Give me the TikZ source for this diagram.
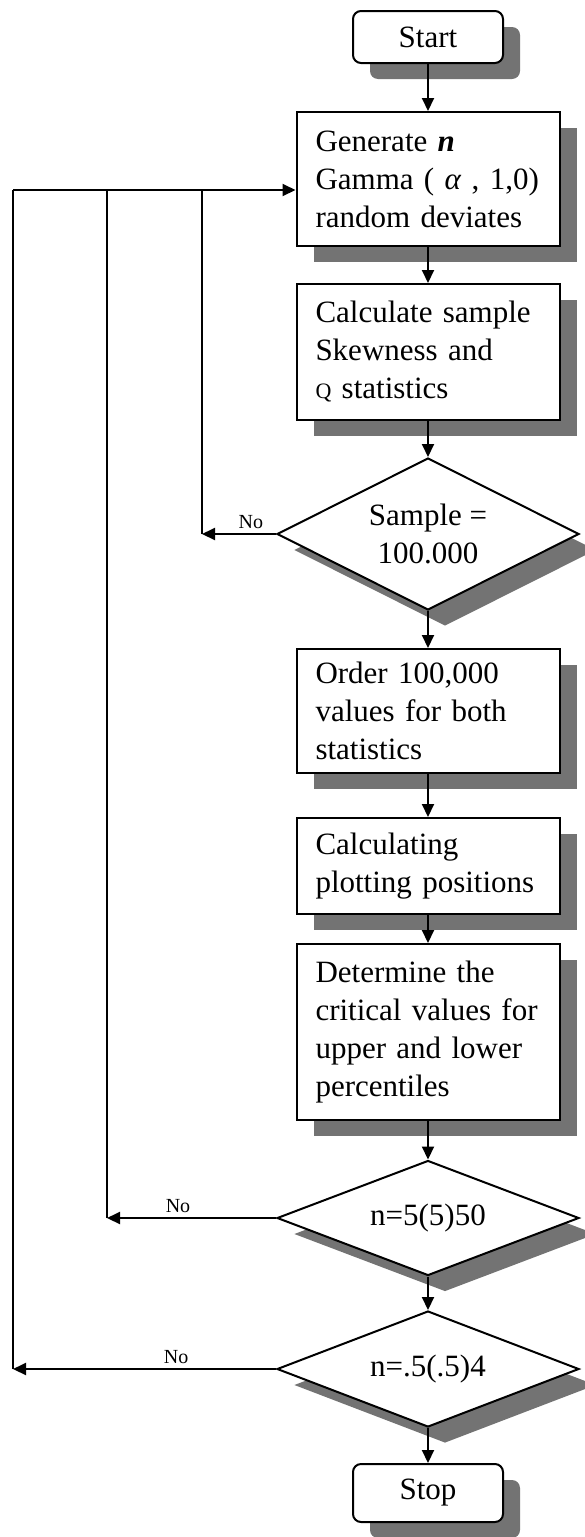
\documentclass[tikz,border=0pt]{standalone}
\usepackage{fontspec}
\setmainfont{Liberation Serif}
\usetikzlibrary{arrows.meta, positioning, shapes.geometric, shadows}

\begin{document}
\begin{tikzpicture}[x=0.5pt, y=-0.5pt,
    font=\fontsize{15.5}{19}\selectfont, line width=1pt,
    shadowed/.style={drop shadow={shadow xshift=8.5pt, shadow yshift=-8pt, fill=black!55, opacity=1}},
    box/.style={draw, fill=white, shadowed, rectangle, text width=112.5pt, inner xsep=9.5pt, inner ysep=0pt, align=left},
    terminal/.style={draw, fill=white, shadowed, rounded corners=4pt, minimum width=75pt},
    decision/.style={draw, fill=white, shadowed, diamond, inner sep=0pt, minimum width=151pt, align=center},
    arr/.style={-{Triangle[length=6.5pt, width=6pt]}},
    nolabel/.style={above, font=\fontsize{10}{12}\selectfont, inner sep=2pt}]

    \useasboundingbox (0,0) rectangle (584,1537);

    \node[terminal, minimum height=26pt] (start) at (428,37) {Start};
    \node[box, minimum height=67pt] (gen) at (428,179) {Generate \textbf{\textit{n}}\\ Gamma ( \textit{α} , 1,0)\\ random deviates};
    \node[box, minimum height=68pt] (calc) at (428,352) {Calculate sample\\ Skewness and\\ {\fontsize{11}{12}\selectfont Q} statistics};
    \node[decision, aspect=2, minimum height=76pt] (dec1) at (428,534) {Sample =\\ 100.000};
    \node[box, minimum height=62pt] (order) at (428,711) {Order 100,000\\ values for both\\ statistics};
    \node[box, minimum height=48pt] (plot) at (428,866) {Calculating\\ plotting positions};
    \node[box, minimum height=88pt] (crit) at (428,1032) {Determine the\\ critical values for\\ upper and lower\\ percentiles};
    \node[decision, aspect=2.6, minimum height=57.5pt] (dec2) at (428,1218) {n=5(5)50};
    \node[decision, aspect=2.6, minimum height=58pt] (dec3) at (428,1369) {n=.5(.5)4};
    \node[terminal, minimum height=29pt] (stop) at (428,1493) {Stop};

    % return lines on the left
    \coordinate (r1) at (202,190);
    \coordinate (r2) at (107,190);
    \coordinate (r3) at (13,190);

    \draw[arr] (start.south) -- (gen.north);
    \draw[arr] (gen.south) -- (calc.north);
    \draw[arr] (calc.south) -- (dec1.north);
    \draw[arr] (dec1.south) -- (order.north);
    \draw[arr] (order.south) -- (plot.north);
    \draw[arr] (plot.south) -- (crit.north);
    \draw[arr] (crit.south) -- (dec2.north);
    \draw[arr] (dec2.south) -- (dec3.north);
    \draw[arr] (dec3.south) -- (stop.north);

    \draw[arr] (dec1.west) -- node[nolabel, pos=.34] (no1) {No} (dec1.west -| r1);
    \draw (dec1.west -| r1) -- (r1);
    \draw[arr] (dec2.west) -- node[nolabel, pos=.58] (no2) {No} (dec2.west -| r2);
    \draw (dec2.west -| r2) -- (r2);
    \draw[arr] (dec3.west) -- node[nolabel, pos=.38] (no3) {No} (dec3.west -| r3);
    \draw (dec3.west -| r3) -- (r3);
    \draw[arr] (r3) -- (r3 -| gen.west);
\end{tikzpicture}
\end{document}
